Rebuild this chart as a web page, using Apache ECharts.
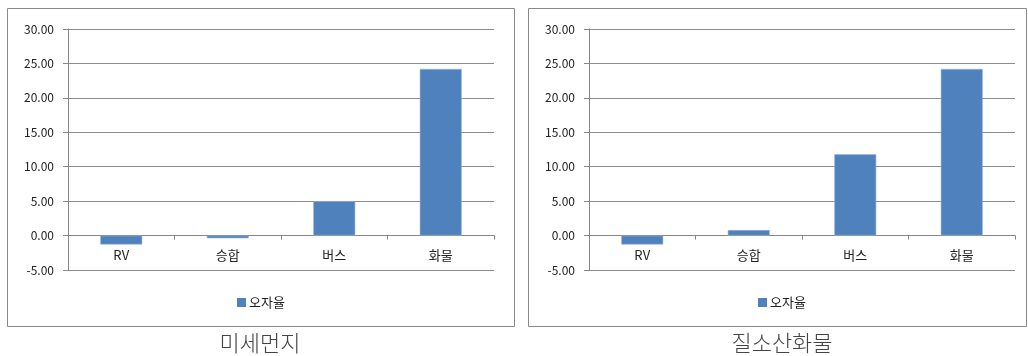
<!DOCTYPE html>
<html><head><meta charset="utf-8">
<script src="https://cdn.jsdelivr.net/npm/echarts@6/dist/echarts.min.js"></script>
<style>html,body{margin:0;padding:0;background:#fff}#c{width:1028px;height:356px}</style>
</head><body><div id="c"></div>
<script>
const categories = ['RV', '승합', '버스', '화물'];
const pmValues = [-1.3, -0.4, 5.0, 24.2];      // 미세먼지
const noxValues = [-1.3, 0.8, 11.8, 24.2];     // 질소산화물
const seriesName = '오자율';
const captions = ['미세먼지', '질소산화물'];

const FONT = '"Noto Sans CJK KR", "Noto Sans", sans-serif';
const chart = echarts.init(document.getElementById('c'), null, {renderer: 'canvas'});

const grids = [
  {left: 68, top: 29, width: 426, height: 241},
  {left: 589, top: 29, width: 426, height: 241}
];
function yAxis(i) {
  return {
    type: 'value', gridIndex: i, min: -5, max: 30, interval: 5,
    axisLine: {show: true, lineStyle: {color: '#868686'}},
    axisTick: {show: true, length: 5, lineStyle: {color: '#868686'}},
    splitLine: {lineStyle: {color: '#8c8c8c'}},
    axisLabel: {formatter: v => v.toFixed(2), color: '#222', fontSize: 12, fontFamily: FONT, margin: 14}
  };
}
function xAxis(i) {
  return {
    type: 'category', gridIndex: i, data: categories,
    axisLine: {onZero: true, lineStyle: {color: '#868686'}},
    axisTick: {show: true, length: 4, lineStyle: {color: '#868686'}},
    axisLabel: {color: '#222', fontSize: 13, fontFamily: FONT, margin: -21}
  };
}
function series(i, data) {
  return {
    name: seriesName, type: 'bar', xAxisIndex: i, yAxisIndex: i, data: data,
    barWidth: 42,
    itemStyle: {color: '#4F81BD', borderColor: '#9bb7dc', borderWidth: 0.6}
  };
}
function legend(cx) {
  return {
    data: [seriesName], left: cx - 30, top: 291, icon: 'rect', itemWidth: 9, itemHeight: 9, itemGap: 4,
    itemStyle: {borderWidth: 0},
    textStyle: {fontSize: 13, fontFamily: FONT, color: '#222', padding: [0, 0, 0, -2]}
  };
}
chart.setOption({
  animation: false,
  grid: grids,
  xAxis: [xAxis(0), xAxis(1)],
  yAxis: [yAxis(0), yAxis(1)],
  legend: [legend(262), legend(783)],
  series: [series(0, pmValues), series(1, noxValues)],
  graphic: [
    {type: 'rect', shape: {x: 7.5, y: 8.5, width: 507, height: 318}, style: {fill: 'none', stroke: '#8a8a8a', lineWidth: 1}, silent: true},
    {type: 'rect', shape: {x: 528.5, y: 8.5, width: 498, height: 318}, style: {fill: 'none', stroke: '#8a8a8a', lineWidth: 1}, silent: true},
    {type: 'text', x: 260, y: 343, style: {text: captions[0], fill: '#444', font: '300 22px ' + FONT, textAlign: 'center', textVerticalAlign: 'middle'}},
    {type: 'text', x: 782, y: 343, style: {text: captions[1], fill: '#444', font: '300 22px ' + FONT, textAlign: 'center', textVerticalAlign: 'middle'}}
  ]
});
</script></body></html>
